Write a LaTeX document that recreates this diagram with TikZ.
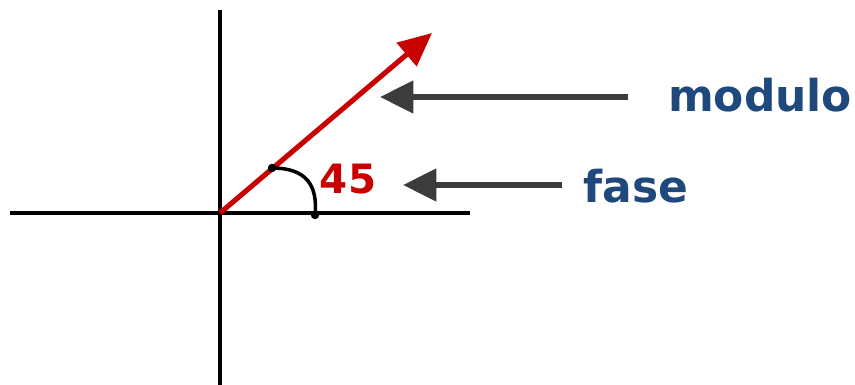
\documentclass[tikz,border=0pt]{standalone}
\usepackage{fontspec}
\setmainfont{DejaVu Sans}
\usetikzlibrary{arrows.meta}
\definecolor{vecred}{RGB}{200,0,0}
\definecolor{labblue}{RGB}{31,73,125}
\definecolor{pointgray}{RGB}{60,60,60}
\tikzset{
  axis/.style={line width=2.1pt},
  pointer/.style={pointgray, line width=3.4pt, -{Triangle[length=19pt,width=18pt]}},
  lab/.style={text=labblue, font=\bfseries\fontsize{25}{30}\selectfont, inner sep=0pt}
}
\begin{document}
\begin{tikzpicture}[x=0.02cm,y=-0.02cm]
  \useasboundingbox (0,0) rectangle (855,385);
  % axes
  \coordinate (o) at (220,213);
  \coordinate (xl) at (10,213); \coordinate (xr) at (470,213);
  \coordinate (yt) at (220,10); \coordinate (yb) at (220,385);
  \draw[axis] (xl)--(xr);
  \draw[axis] (yt)--(yb);
  % vector
  \coordinate (tip) at (432,33);
  \draw[vecred, line width=2.9pt, -{Triangle[length=19pt,width=17pt]}] (o)--(tip);
  % angle
  \coordinate (a1) at (272,168); \coordinate (a2) at (315,215);
  \draw[line width=2pt] (a1) .. controls (306,168) and (318,185) .. (a2);
  \fill (a1) circle (2.4pt); \fill (a2) circle (2.4pt);
  \node[text=vecred, font=\bfseries\fontsize{23}{28}\selectfont, inner sep=0pt] (ang) at (348,179) {45};
  % labels
  \node[lab] (mod) at (760,95) {modulo};
  \node[lab] (fas) at (636,186) {fase};
  \coordinate (m1) at (628,97); \coordinate (m2) at (380,97);
  \coordinate (f1) at (562,185); \coordinate (f2) at (403,185);
  \draw[pointer] (m1)--(m2);
  \draw[pointer] (f1)--(f2);
\end{tikzpicture}
\end{document}
